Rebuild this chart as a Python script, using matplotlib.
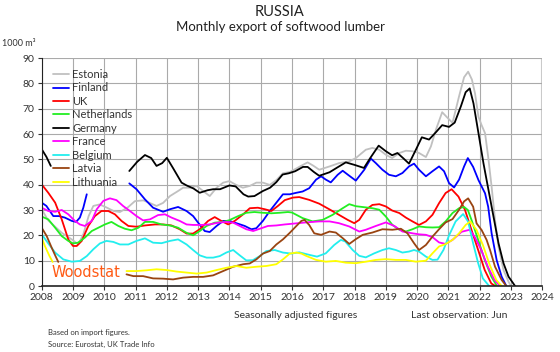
import numpy as np
import matplotlib
matplotlib.use("Agg")
import matplotlib.pyplot as plt

plt.rcParams['font.family'] = ['Lato', 'DejaVu Sans']

nan = np.nan

# Values (1000 m3), x in decimal years
estonia_x = [2008, 2008.2, 2008.64, 2008.96, 2009.17, 2009.33, 2009.5, 2009.65, 2009.85, 2010.07, 2010.3, 2010.5,
             2010.75, 2010.98, 2011.25, 2011.45, 2011.67, 2011.88, 2012.1, 2012.36, 2012.52, 2012.75, 2012.95, 2013.16,
             2013.37, 2013.59, 2013.8, 2014.0, 2014.2, 2014.43, 2014.65, 2014.86, 2015.07, 2015.29, 2015.5, 2015.71,
             2015.93, 2016.14, 2016.3, 2016.5, 2016.68, 2016.87, 2017.2, 2017.5, 2017.83, 2018.04, 2018.36, 2018.57,
             2018.79, 2019.0, 2019.2, 2019.43, 2019.64, 2019.85, 2020.06, 2020.28, 2020.44, 2020.6, 2020.8, 2020.97,
             2021.13, 2021.34, 2021.5, 2021.63, 2021.75, 2021.85, 2021.96, 2022.06, 2022.17, 2022.27, 2022.38,
             2022.49, 2022.6, 2022.76, 2022.92, 2023.0]
estonia_y = [30.3, 26, 21, 18.4, 16.4, 20.4, 27.6, 31.6, 32.2, 31, 29.6, 29.2,
             31, 33.5, 33.8, 32.8, 31.6, 32.8, 35.5, 37.5, 38.8, 38.8, 39.5, 37.5,
             35.5, 38.8, 40.8, 41.4, 40, 38.8, 39.5, 40.8, 40.8, 39.9, 41.8, 44.5,
             45, 46.4, 47.5, 48.8, 47.5, 45.9, 47.2, 48.5, 49.2, 50.5, 53.8, 54.5,
             53.8, 51.8, 50.5, 52.5, 53.4, 53.2, 52.5, 50.9, 55.1, 61.7, 68.6, 66.4,
             64.4, 74.9, 82.4, 84.6, 81.5, 76, 66.8, 63.5, 60.3, 51, 39.2,
             26, 15.5, 6.3, 1.7, 0]

finland_x = [2008, 2008.15, 2008.37, 2008.55, 2008.74, 2008.96, 2009.1, 2009.22, 2009.33, 2009.44, nan,
             2010.8, 2011.03, 2011.3, 2011.56, 2011.88, 2012.1, 2012.36, 2012.63, 2012.84, 2013.0, 2013.21,
             2013.37, 2013.59, 2013.8, 2014.0, 2014.22, 2014.49, 2014.7, 2014.86, 2015.07, 2015.29, 2015.5,
             2015.71, 2015.93, 2016.14, 2016.34, 2016.55, 2016.77, 2016.93, 2017.08, 2017.24, 2017.46, 2017.62,
             2017.8, 2018.04, 2018.31, 2018.52, 2018.68, 2018.89, 2019.1, 2019.32, 2019.53, 2019.74, 2019.9,
             2020.06, 2020.28, 2020.49, 2020.7, 2020.86, 2021.02, 2021.18, 2021.34, 2021.5, 2021.62, 2021.79,
             2021.96, 2022.17, 2022.27, 2022.38, 2022.54, 2022.7, 2022.85]
finland_y = [32.9, 31.6, 27.6, 27.6, 27, 25.7, 25.3, 27, 30.9, 36.2, nan,
             40.5, 38.2, 34.2, 30.9, 29.3, 30.3, 31.2, 29.6, 27.6, 25, 21.7,
             21.3, 23.7, 25.7, 25.7, 24.8, 23.7, 22.4, 22.8, 25.7, 29.6, 32.9,
             36.2, 36.2, 36.8, 37.3, 38.6, 42, 43.3, 42, 40.9, 43.9, 45.5,
             43.8, 41.6, 45.9, 50.3, 48.5, 45.9, 43.9, 43.3, 44.6, 47.2, 48.3,
             45.9, 43.3, 45.3, 47.2, 45.3, 40.6, 38.9, 42, 47.2, 50.5, 47,
             41.8, 36.6, 31.3, 20.8, 10.3, 3.7, 0]

uk_x = [2008, 2008.21, 2008.43, 2008.64, 2008.85, 2009.0, 2009.12, 2009.28, 2009.49, 2009.7, 2009.91, 2010.13,
        2010.34, 2010.55, 2010.77, 2011.03, 2011.3, 2011.62, 2011.88, 2012.15, 2012.41, 2012.63, 2012.84, 2013.05,
        2013.32, 2013.53, 2013.74, 2013.96, 2014.17, 2014.44, 2014.65, 2014.91, 2015.13, 2015.34, 2015.55, 2015.77,
        2016.03, 2016.23, 2016.55, 2016.87, 2017.19, 2017.5, 2017.78, 2017.99, 2018.15, 2018.36, 2018.57, 2018.79,
        2019.0, 2019.2, 2019.43, 2019.64, 2019.85, 2020.06, 2020.28, 2020.49, 2020.7, 2020.91, 2021.1, 2021.32,
        2021.53, 2021.74, 2021.95, 2022.16, 2022.37, 2022.5]
uk_y = [40.1, 36.8, 32.9, 26.3, 18.4, 15.8, 15.8, 17.8, 23.7, 27.6, 29.6, 29.6,
        28.3, 25.7, 23.7, 23.4, 23.9, 24.3, 24.3, 23.9, 22.4, 20.7, 20.7, 22.4,
        25.7, 27.2, 25.7, 24.3, 25.7, 28.3, 30.7, 30.9, 30.3, 29.6, 31.6, 33.9,
        34.9, 35.1, 34, 32.5, 30.3, 28.1, 26.1, 24.8, 26.1, 30.1, 32, 32.3,
        31.4, 29.8, 28.8, 27, 25.5, 24.1, 25.5, 28.1, 32.7, 36.7, 38.2, 35.3,
        30, 22, 14.2, 6.3, 1, 0]

netherlands_x = [2008, 2008.21, 2008.43, 2008.64, 2008.85, 2009.0, 2009.16, 2009.38, 2009.6, 2009.81, 2010.02,
                 2010.23, 2010.45, 2010.66, 2010.87, 2011.09, 2011.3, 2011.56, 2011.83, 2012.1, 2012.36, 2012.63,
                 2012.84, 2013.05, 2013.27, 2013.53, 2013.8, 2014.0, 2014.28, 2014.54, 2014.8, 2015.07, 2015.34,
                 2015.6, 2015.87, 2016.0, 2016.34, 2016.66, 2016.98, 2017.3, 2017.62, 2017.83, 2018.04, 2018.31,
                 2018.57, 2018.79, 2019.0, 2019.21, 2019.43, 2019.64, 2019.85, 2020.06, 2020.28, 2020.49, 2020.7,
                 2020.91, 2021.13, 2021.34, 2021.5, 2021.62, 2021.74, 2021.95, 2022.16, 2022.37, 2022.55]
netherlands_y = [27.4, 26.3, 23, 19.7, 17.8, 16.8, 17.1, 19.1, 21.7, 23, 24.3,
                 25.3, 23.7, 22.6, 22, 23, 25.3, 25.3, 24.3, 23.9, 23, 21,
                 20, 21.7, 23.7, 25, 25.3, 26, 27.6, 28.9, 29.2, 28.9, 28.7,
                 28.9, 29.2, 29, 26.8, 25.5, 26.1, 28.1, 30.7, 32.3, 31.5, 31.1,
                 30.7, 30.1, 27.4, 24.1, 22.2, 21.5, 22.4, 23.5, 23.2, 23.1, 23.2,
                 25.5, 28.8, 30.7, 31.2, 30, 26, 18.2, 10.3, 3.7, 0]

germany_x = [2008, 2008.15, 2008.29, nan, 2010.8, 2011.05, 2011.3, 2011.5, 2011.67, 2011.85, 2012.0, 2012.2,
             2012.47, 2012.63, 2012.85, 2013.05, 2013.3, 2013.48, 2013.7, 2014.0, 2014.2, 2014.45, 2014.6, 2014.8,
             2015.07, 2015.3, 2015.5, 2015.7, 2015.9, 2016.1, 2016.35, 2016.5, 2016.7, 2016.87, 2017.2, 2017.45,
             2017.72, 2018.0, 2018.3, 2018.5, 2018.77, 2019.0, 2019.2, 2019.37, 2019.55, 2019.74, 2019.96, 2020.15,
             2020.38, 2020.6, 2020.8, 2021.02, 2021.2, 2021.4, 2021.55, 2021.68, 2021.8, 2021.96, 2022.12, 2022.28,
             2022.44, 2022.6, 2022.76, 2022.92, 2023.13]
germany_y = [54, 51, 47.4, nan, 45.4, 49, 51.7, 50.5, 47.4, 48.5, 50.6, 46.5,
             40.8, 39.7, 38.5, 36.8, 37.8, 38.2, 38.2, 39.7, 39.3, 36.2, 35.3, 35.5,
             37.5, 38.8, 41, 44, 44.5, 45.3, 47, 47, 45, 43.5, 44.9, 46.8,
             48.8, 47.8, 46.6, 50.5, 55.4, 53.2, 51.6, 52.5, 50.5, 48.3, 53.8, 58.7,
             57.8, 60.7, 63.5, 62.8, 64.5, 71, 76.5, 78, 72.1, 60.3, 48.4, 37.9,
             27.4, 16.9, 9, 3.7, 0]

france_x = [2008, 2008.21, 2008.43, 2008.64, 2008.85, 2009.06, 2009.22, 2009.38, 2009.6, 2009.76, 2009.97, 2010.18,
            2010.39, 2010.6, 2010.82, 2011.03, 2011.24, 2011.46, 2011.72, 2011.94, 2012.15, 2012.41, 2012.63, 2012.84,
            2013.1, 2013.37, 2013.64, 2013.9, 2014.12, 2014.33, 2014.54, 2014.76, 2014.97, 2015.23, 2015.5, 2015.77,
            2016.03, 2016.45, 2016.87, 2017.2, 2017.5, 2017.83, 2018.15, 2018.36, 2018.68, 2019.0, 2019.27, 2019.53,
            2019.85, 2020.06, 2020.28, 2020.49, 2020.7, 2020.91, 2021.13, 2021.42, 2021.68, 2021.84, 2022.05, 2022.26,
            2022.47, 2022.65]
france_y = [30.9, 29.6, 29.3, 30, 28.3, 25.7, 24.3, 23.7, 25.7, 30.3, 33.6, 34.6,
            33.9, 31.6, 29.6, 27.6, 25.9, 26.3, 28, 28.3, 27, 25.7, 24.3, 24.1,
            24.1, 24.3, 25, 25.3, 25, 23.7, 22.4, 21.7, 22.6, 23.7, 23.9, 24.3,
            24.6, 25.1, 25.5, 25.5, 24.8, 23.5, 21.5, 22.2, 23.7, 25.1, 23.7, 21.5,
            20.8, 20.4, 20.2, 19.3, 17.2, 16.6, 18.2, 21.4, 22.2, 19.4, 14.2, 7.6,
            2.4, 0]

belgium_x = [2008, 2008.21, 2008.43, 2008.69, 2008.96, 2009.22, 2009.44, 2009.65, 2009.86, 2010.07, 2010.29, 2010.5,
             2010.77, 2011.03, 2011.3, 2011.56, 2011.83, 2012.1, 2012.36, 2012.63, 2012.84, 2013.05, 2013.27, 2013.48,
             2013.69, 2013.9, 2014.12, 2014.33, 2014.54, 2014.75, 2014.97, 2015.18, 2015.45, 2015.71, 2015.98, 2016.23,
             2016.55, 2016.8, 2017.08, 2017.35, 2017.56, 2017.7, 2017.94, 2018.15, 2018.36, 2018.63, 2018.89, 2019.1,
             2019.32, 2019.53, 2019.74, 2019.9, 2020.06, 2020.28, 2020.49, 2020.65, 2020.84, 2021.02, 2021.23, 2021.47,
             2021.63, 2021.79, 2021.95, 2022.1, 2022.3]
belgium_y = [20.4, 16.8, 13.2, 10.5, 9.6, 9.9, 11.8, 14.5, 16.8, 17.8, 17.4, 16.4,
             16.4, 17.8, 18.8, 17.1, 16.9, 17.8, 18.4, 16.4, 14.2, 12.1, 11.2, 11.2,
             11.8, 13.2, 14.2, 12.1, 10.1, 10.2, 11.8, 13.8, 14.2, 13.2, 12.8, 13.3,
             12.3, 11.6, 12.9, 16.2, 18.2, 17.6, 14.2, 11.9, 11.3, 12.9, 14.2, 14.9,
             14.2, 13.2, 13.6, 14.2, 13.6, 11.6, 10.3, 10.4, 14.2, 20, 25.5, 28.4,
             25.4, 16.8, 9, 3, 0]

latvia_x = [2008, 2008.16, 2008.32, 2008.43, 2008.53, nan, 2010.71, 2010.93, 2011.24, 2011.56, 2011.88, 2012.2,
            2012.52, 2012.84, 2013.16, 2013.48, 2013.8, 2014.12, 2014.44, 2014.65, 2014.86, 2015.07, 2015.29, 2015.5,
            2015.71, 2015.93, 2016.14, 2016.3, 2016.4, 2016.55, 2016.71, 2016.93, 2017.2, 2017.4, 2017.62, 2017.83,
            2018.04, 2018.26, 2018.57, 2018.89, 2019.21, 2019.48, 2019.69, 2019.9, 2020.06, 2020.28, 2020.49, 2020.7,
            2020.91, 2021.13, 2021.34, 2021.5, 2021.63, 2021.79, 2021.9, 2022.06, 2022.22, 2022.33, 2022.49, 2022.7,
            2022.85]
latvia_y = [23, 19.7, 15.1, 12.1, 9.5, nan, 4.6, 3.9, 3.9, 3, 2.9, 2.6,
            3.3, 3.6, 3.6, 4.2, 5.9, 7.6, 8.6, 8.9, 10.5, 12.8, 13.8, 16.4,
            18.4, 21, 23.7, 25.7, 26.1, 24.1, 20.8, 20.2, 21.5, 21.1, 18.9, 16.6,
            18.5, 20.2, 21.1, 22.4, 22.2, 22.6, 20.8, 16.9, 14.2, 16.2, 19.5, 22.4,
            25.1, 26.4, 30.1, 33.4, 34.6, 31.3, 24.7, 22.1, 18.2, 14.2, 7.6, 2.4,
            0]

lithuania_x = [2008, 2008.1, 2008.25, 2008.35, nan, 2010.71, 2011.03, 2011.35, 2011.67, 2012.0, 2012.31, 2012.63,
               2012.95, 2013.27, 2013.59, 2013.9, 2014.22, 2014.54, 2014.86, 2015.18, 2015.5, 2015.71, 2015.93,
               2016.14, 2016.3, 2016.45, 2016.77, 2017.08, 2017.4, 2017.72, 2018.04, 2018.36, 2018.68, 2019.0,
               2019.32, 2019.64, 2019.96, 2020.28, 2020.49, 2020.7, 2020.9, 2021.13, 2021.34, 2021.55, 2021.7,
               2021.9, 2022.1, 2022.32, 2022.53, 2022.7]
lithuania_y = [19.1, 15.8, 11.8, 9.5, nan, 5.9, 5.9, 6.2, 6.6, 6.3, 5.7, 5.3,
               4.9, 5.3, 6.3, 7.2, 7.9, 7.2, 7.6, 7.9, 8.6, 10.5, 12.8,
               13.2, 12.8, 11.9, 10.3, 9.6, 9.9, 9.2, 9, 9.6, 10.3, 10.6,
               10.3, 10.3, 9.6, 10, 12.9, 15.6, 16.5, 18.2, 20.8, 24.1, 25.5,
               22.1, 16.2, 8.3, 2.4, 0]

countries = ['Estonia', 'Finland', 'UK', 'Netherlands', 'Germany', 'France', 'Belgium', 'Latvia', 'Lithuania']
xs = [estonia_x, finland_x, uk_x, netherlands_x, germany_x, france_x, belgium_x, latvia_x, lithuania_x]
ys = [estonia_y, finland_y, uk_y, netherlands_y, germany_y, france_y, belgium_y, latvia_y, lithuania_y]
colors = ['#c0c0c0', '#0000ff', '#ff0000', '#22ee22', '#000000', '#ff00ff', '#22eeee', '#994411', '#ffff00']

years = list(range(2008, 2025))
yticks = list(range(0, 91, 10))

fig = plt.figure(figsize=(5.6, 3.52), dpi=100)
ax = fig.add_axes([41.7 / 560, 1 - 286 / 352, (542.3 - 41.7) / 560, (286 - 58) / 352])

for name, x, y, c in zip(countries, xs, ys, colors):
    ax.plot(x, y, color=c, lw=1.3, label=name, solid_capstyle='round')

ax.set_xlim(2008, 2024)
ax.set_ylim(0, 90)
ax.set_xticks(years)
ax.set_yticks(yticks)
ax.tick_params(labelsize=7.5, length=3, width=0.8, colors='#333333', pad=2)
ax.grid(True, color='#aaaaaa', lw=0.8)
ax.set_axisbelow(True)
for s in ['top', 'right']:
    ax.spines[s].set_visible(False)
ax.spines['left'].set_color('#222222')
ax.spines['bottom'].set_color('#222222')
ax.spines['bottom'].set_linewidth(1.2)
ax.axvline(2024, color='#cccccc', lw=1.5, zorder=0)

leg = ax.legend(loc='upper left', bbox_to_anchor=(53 / 560, 1 - 69 / 352), bbox_transform=fig.transFigure,
                frameon=False, fontsize=8, handlelength=1.4, handletextpad=0.35, labelspacing=0.22,
                borderaxespad=0, borderpad=0)
for t in leg.get_texts():
    t.set_color('#333333')

ax.text(2008.32, 5.4, 'Woodstat', color='#ff5a14', fontsize=10.5, va='center', ha='left',
        family='DejaVu Sans')

fig.text(0.5, 1 - 12 / 352, 'RUSSIA', ha='center', va='center', fontsize=10.5, color='#222222')
fig.text(0.5, 1 - 27 / 352, 'Monthly export of softwood lumber', ha='center', va='center', fontsize=9.5,
         color='#222222')
fig.text(2 / 560, 1 - 44 / 352, '1000 m³', ha='left', va='center', fontsize=6.5, color='#333333')
fig.text(296 / 560, 1 - 315 / 352, 'Seasonally adjusted figures', ha='center', va='center', fontsize=7.5,
         color='#333333')
fig.text(507 / 560, 1 - 315 / 352, 'Last observation: Jun', ha='right', va='center', fontsize=7.5,
         color='#333333')
fig.text(48 / 560, 1 - 332 / 352, 'Based on import figures.', ha='left', va='center', fontsize=5.5,
         color='#333333')
fig.text(48 / 560, 1 - 344 / 352, 'Source: Eurostat, UK Trade Info', ha='left', va='center', fontsize=5.5,
         color='#333333')

fig.savefig('out.png', dpi=100)
